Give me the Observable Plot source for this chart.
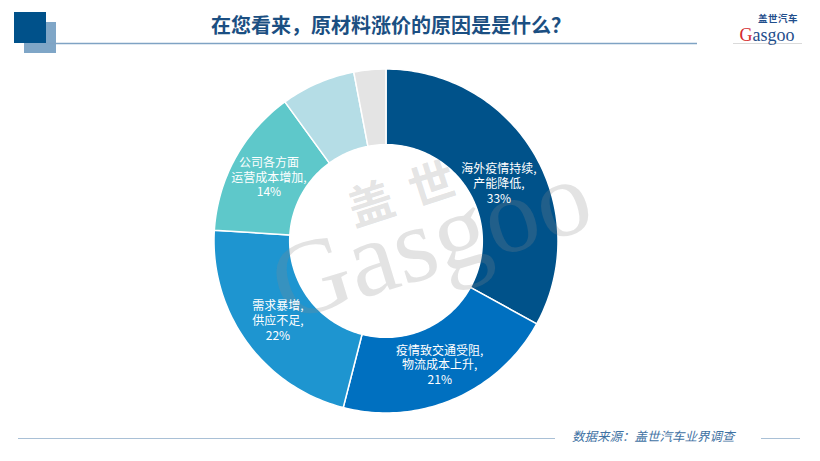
<!DOCTYPE html>
<html>
<head>
<meta charset="utf-8">
<script src="https://cdn.jsdelivr.net/npm/d3@7"></script>
<script src="https://cdn.jsdelivr.net/npm/@observablehq/plot@0.6"></script>
<style>
  html, body { margin: 0; padding: 0; background: #fff; }
  body { width: 820px; height: 461px; position: relative; overflow: hidden; font-family: "Noto Sans CJK SC", "Noto Sans", sans-serif; }
  .abs { position: absolute; }
</style>
</head>
<body>
<svg class="abs" style="left:0;top:0" width="820" height="461" id="deco">
  <rect x="24" y="22" width="32" height="31" fill="#7FA6C7"/>
  <rect x="14" y="12" width="32" height="31" fill="#00518A"/>
  <line x1="46" y1="43.5" x2="697" y2="43.5" stroke="#7FA3C4" stroke-width="1.5"/>
  <line x1="733" y1="43.5" x2="802" y2="43.5" stroke="#D0D0D0" stroke-width="0.8"/>
  <text x="391" y="33" text-anchor="middle" font-size="20" font-weight="bold" fill="#1B4F82" font-family="Noto Sans CJK SC">在您看来，原材料涨价的原因是是什么？</text>
  <text x="778" y="21.5" text-anchor="middle" font-size="9.5" font-weight="bold" letter-spacing="0.5" fill="#1F4E8C" font-family="Noto Sans CJK SC">盖世汽车</text>
  <text x="767" y="40.5" text-anchor="middle" font-size="18" fill="#1F4E8C" font-family="Liberation Serif"><tspan fill="#D42A2E">G</tspan>asgoo</text>
  <line x1="18" y1="438.5" x2="555" y2="438.5" stroke="#A9C0D6" stroke-width="1"/>
  <text x="572" y="441" font-size="12.5" font-style="italic" fill="#3F72A3" font-family="Noto Sans CJK SC">数据来源：盖世汽车业界调查</text>
  <line x1="761" y1="438.5" x2="800" y2="438.5" stroke="#A9C0D6" stroke-width="1"/>
</svg>
<div id="chart" class="abs" style="left:165.5px;top:51px"></div>
<svg class="abs" style="left:0;top:0" width="820" height="461" id="wm">
  <g fill="#8a8a8a" fill-opacity="0.24">
    <text x="441" y="274" text-anchor="middle" font-size="107" font-family="Liberation Serif" transform="rotate(-17 441 274)">Gasgoo</text>
    <text x="415" y="207" text-anchor="middle" font-size="46" font-weight="bold" letter-spacing="18" font-family="Noto Sans CJK SC" transform="rotate(-18 415 207)">盖世</text>
  </g>
</svg>
<div id="labels" class="abs" style="left:165.5px;top:51px"></div>
<script>
// ---- data ----
const categories = ["海外疫情持续,\n产能降低", "疫情致交通受阻,\n物流成本上升", "需求暴增,\n供应不足", "公司各方面\n运营成本增加", "其他", "不清楚"];
const values = [33, 21, 22, 14, 7, 3];
const showLabel = [true, true, true, true, false, false];
const colors = ["#00528A", "#0070C0", "#1E95D0", "#5EC8CA", "#B5DDE6", "#E4E4E4"];

// ---- geometry (unit radius) ----
const outerR = 1, innerR = 0.56, labelR = 0.78;
const W = 440, H = 380, pxR = 172;
const xd = W / 2 / pxR, yd = H / 2 / pxR;
const total = d3.sum(values);

const arcs = [];
const labels = [];
let cum = 0;
values.forEach((v, i) => {
  const a0 = cum / total * 2 * Math.PI;
  cum += v;
  const a1 = cum / total * 2 * Math.PI;
  const n = Math.max(8, Math.ceil(v * 3));
  for (let k = 0; k <= n; k++) {
    const t = a0 + (a1 - a0) * k / n;
    arcs.push({cat: categories[i], color: colors[i],
      x1: Math.sin(t) * outerR, y1: Math.cos(t) * outerR,
      x2: Math.sin(t) * innerR, y2: Math.cos(t) * innerR});
  }
  if (showLabel[i]) {
    const m = (a0 + a1) / 2;
    labels.push({idx: i, x: Math.sin(m) * labelR, y: Math.cos(m) * labelR,
      text: categories[i] + ",\n" + v + "%"});
  }
});

const common = {
  width: W, height: H,
  marginTop: 0, marginRight: 0, marginBottom: 0, marginLeft: 0,
  x: {domain: [-xd, xd], axis: null},
  y: {domain: [-yd, yd], axis: null},
  style: {background: "transparent", overflow: "visible"}
};

const chart = Plot.plot({
  ...common,
  color: {type: "identity"},
  marks: [
    Plot.area(arcs, {x1: "x1", y1: "y1", x2: "x2", y2: "y2", z: "cat", fill: "color",
      stroke: "white", strokeWidth: 1.5, strokeLinejoin: "round"})
  ]
});
document.getElementById("chart").appendChild(chart);

const textOpts = {x: "x", y: "y", text: "text", fill: "white", fontSize: 12,
  lineHeight: 1.22, fontFamily: "Noto Sans CJK SC"};
const labelPlot = Plot.plot({
  ...common,
  marks: [
    // the largest slice's label sits a little lower in the original (best-fit placement)
    Plot.text(labels.filter(d => d.idx === 0), {...textOpts, dx: -3, dy: 10}),
    Plot.text(labels.filter(d => d.idx !== 0), textOpts)
  ]
});
document.getElementById("labels").appendChild(labelPlot);
</script>
</body>
</html>
